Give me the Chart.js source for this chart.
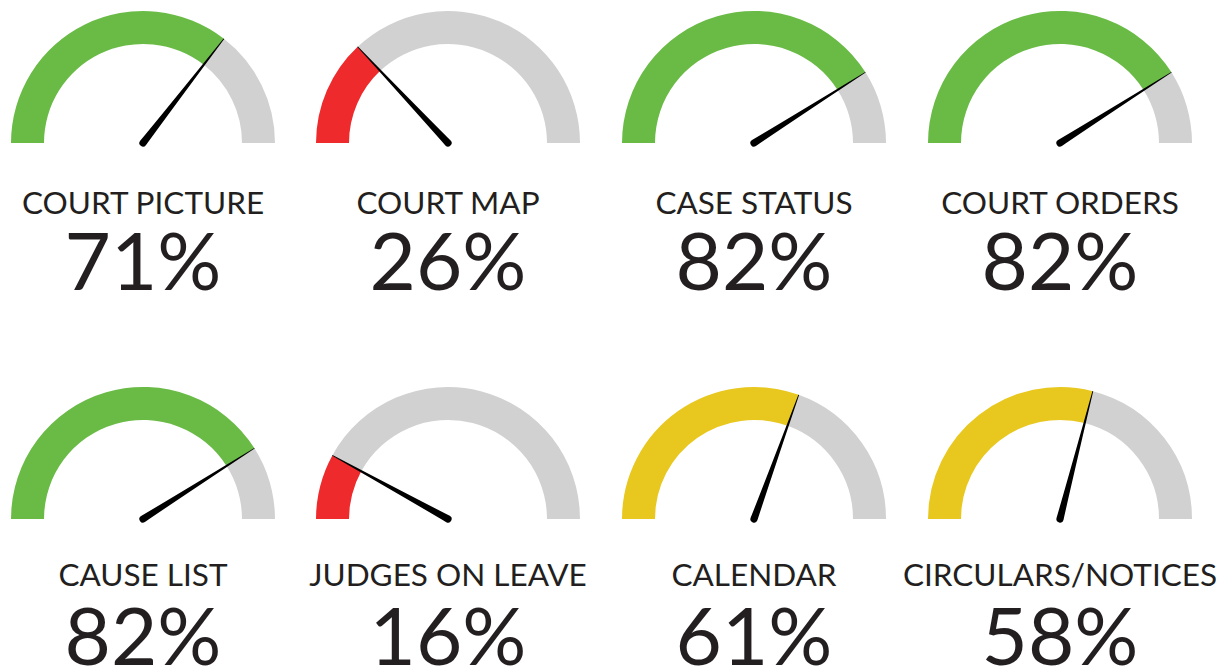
<!DOCTYPE html>
<html>
<head>
<meta charset="utf-8">
<script src="https://cdn.jsdelivr.net/npm/chart.js@4"></script>
<style>
  body { margin: 0; background: #fff; width: 1224px; height: 666px; overflow: hidden; position: relative; font-family: Lato, sans-serif; color: #231f20; }
  .gauge { position: absolute; }
  .label, .pct { position: absolute; width: 320px; text-align: center; line-height: 1; white-space: nowrap; }
  .label { font-size: 31.5px; font-weight: 400; }
  .pct { font-size: 80px; font-weight: 400; }
</style>
</head>
<body>
<script>
// gauge data
const labels = ['COURT PICTURE', 'COURT MAP', 'CASE STATUS', 'COURT ORDERS',
                'CAUSE LIST', 'JUDGES ON LEAVE', 'CALENDAR', 'CIRCULARS/NOTICES'];
const values = [71, 26, 82, 82, 82, 16, 61, 58];
const bandColors = ['green', 'red', 'green', 'green', 'green', 'red', 'yellow', 'yellow'];

const palette = { green: '#69bb46', red: '#ee2a2c', yellow: '#e8c71e' };
let grey = '#d1d1d1';

// layout
const colX = [143, 448, 754, 1060];
const rowY = [143, 519];
const labelBase = [215, 587];
const pctBase = [290, 665];
const R = 132;
const pad = { left: 6, right: 6, top: 6, bottom: 10 };

const needle = {
  id: 'needle',
  afterDatasetsDraw(chart) {
    const arc = chart.getDatasetMeta(0).data[0];
    const v = chart.config.options.plugins.needle.value;
    const a = Math.PI + v / 100 * Math.PI;
    const cx = arc.x, cy = arc.y, r = arc.outerRadius;
    const w = 3.6;
    const ctx = chart.ctx;
    ctx.save();
    ctx.translate(cx, cy);
    ctx.rotate(a);
    ctx.fillStyle = '#000';
    ctx.beginPath();
    ctx.moveTo(0, -w);
    ctx.quadraticCurveTo(r * 0.25, -w * 0.7, r, -0.4);
    ctx.lineTo(r, 0.4);
    ctx.quadraticCurveTo(r * 0.25, w * 0.7, 0, w);
    ctx.arc(0, 0, w, Math.PI / 2, Math.PI * 1.5);
    ctx.closePath();
    ctx.fill();
    ctx.restore();
  }
};

for (let i = 0; i < values.length; i++) {
  const row = Math.floor(i / 4);
  const cx = colX[i % 4];
  const cy = rowY[row];

  const box = document.createElement('div');
  box.className = 'gauge';
  box.style.left = (cx - R - pad.left) + 'px';
  box.style.top = (cy - R - pad.top) + 'px';
  const canvas = document.createElement('canvas');
  canvas.width = 2 * R + pad.left + pad.right;
  canvas.height = R + pad.top + pad.bottom;
  box.appendChild(canvas);
  document.body.appendChild(box);

  // baseline sits at 0.887em below the top of a line-height:1 box in Lato
  const lab = document.createElement('div');
  lab.className = 'label';
  lab.textContent = labels[i];
  lab.style.left = (cx - 160) + 'px';
  lab.style.top = (labelBase[row] - 31.5 * 0.887) + 'px';
  document.body.appendChild(lab);

  const pct = document.createElement('div');
  pct.className = 'pct';
  pct.textContent = values[i] + '%';
  pct.style.left = (cx - 160) + 'px';
  pct.style.top = (pctBase[row] - 80 * 0.887) + 'px';
  document.body.appendChild(pct);

  new Chart(canvas, {
    type: 'doughnut',
    data: {
      labels: ['value', 'rest'],
      datasets: [{
        data: [values[i], 100 - values[i]],
        backgroundColor: [palette[bandColors[i]], grey],
        borderWidth: 0
      }]
    },
    options: {
      responsive: false,
      animation: false,
      events: [],
      rotation: -90,
      circumference: 180,
      cutout: '75%',
      layout: { padding: pad },
      plugins: {
        legend: { display: false },
        tooltip: { enabled: false },
        needle: { value: values[i] }
      }
    },
    plugins: [needle]
  });
}
</script>
</body>
</html>
